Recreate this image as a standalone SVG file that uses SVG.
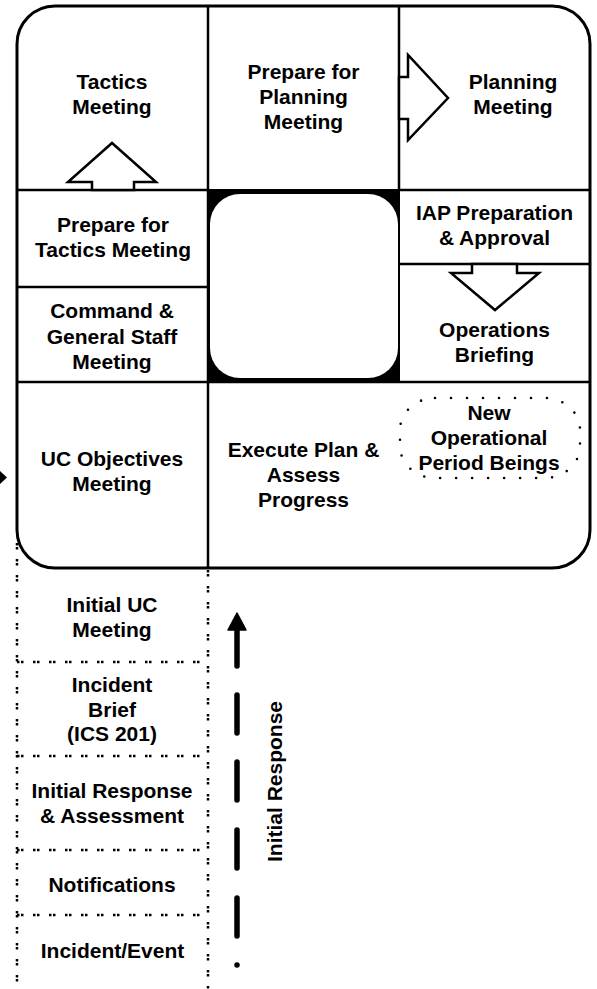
<svg xmlns="http://www.w3.org/2000/svg" width="597" height="989" viewBox="0 0 597 989">
<style>
text{font-family:"Liberation Sans",Arial,sans-serif;font-weight:bold;font-size:21px;fill:#000;text-anchor:middle}
.ln{stroke:#000;stroke-width:2.5;fill:none}
.arr{stroke:#000;stroke-width:2.5;fill:#fff;stroke-linejoin:miter}
.dot{stroke:#000;stroke-width:2.5;fill:none;stroke-dasharray:2.5 1.5 2.5 9.5}
.ell{stroke:#000;stroke-width:2.6;fill:none;stroke-dasharray:0 16;stroke-linecap:round}
</style>
<rect width="597" height="989" fill="#fff"/>
<g id="frame">
<rect x="17" y="6" width="573" height="562" rx="38" ry="38" fill="#fff" stroke="#000" stroke-width="3"/>
<rect x="207" y="189" width="193" height="193" fill="#000"/>
<rect x="210" y="194" width="188" height="184" rx="30" ry="30" fill="#fff"/>
</g>
<g id="connectors">
<line class="ln" x1="208" y1="6" x2="208" y2="568"/>
<line class="ln" x1="399" y1="6" x2="399" y2="190"/>
<line class="ln" x1="17" y1="190" x2="208" y2="190"/>
<line class="ln" x1="399" y1="190" x2="590" y2="190"/>
<line class="ln" x1="17" y1="287" x2="208" y2="287"/>
<line class="ln" x1="399" y1="264" x2="590" y2="264"/>
<line class="ln" x1="17" y1="382" x2="590" y2="382"/>
<polygon class="arr" points="92,190 92,182 68,182 112,143 156,182 134,182 134,190"/>
<polygon class="arr" points="399,77 408,77 408,55 448,98 408,140 408,119 399,119"/>
<polygon class="arr" points="472,264 472,273 451,273 495,310 539,273 517,273 517,264"/>
<polygon points="0,471 7,477.5 0,484" fill="#000"/>
<line class="dot" x1="17" y1="543" x2="17" y2="989"/>
<line class="dot" x1="208" y1="570" x2="208" y2="989"/>
<line class="dot" x1="17" y1="662" x2="208" y2="662"/>
<line class="dot" x1="17" y1="756" x2="208" y2="756"/>
<line class="dot" x1="17" y1="850" x2="208" y2="850"/>
<line class="dot" x1="17" y1="915" x2="208" y2="915"/>
<path d="M237 965 L237 965.01 M237 898 L237 936 M237 830 L237 868 M237 762 L237 800 M237 695 L237 733 M237 628 L237 666" stroke="#000" stroke-width="5.5" stroke-linecap="round" fill="none"/>
<polygon points="237,613 228,630 246,630" fill="#000" stroke="#000" stroke-width="1.5" stroke-linejoin="round"/>
</g>
<g id="tactics-meeting"><text x="112" y="89">Tactics</text><text x="112" y="114">Meeting</text></g>
<g id="prepare-planning"><text x="303.5" y="79">Prepare for</text><text x="303.5" y="104">Planning</text><text x="303.5" y="129">Meeting</text></g>
<g id="planning-meeting"><text x="513" y="89">Planning</text><text x="513" y="114">Meeting</text></g>
<g id="prepare-tactics"><text x="113" y="232">Prepare for</text><text x="113" y="257">Tactics Meeting</text></g>
<g id="cgs-meeting"><text x="112" y="318">Command &amp;</text><text x="112" y="344">General Staff</text><text x="112" y="369">Meeting</text></g>
<g id="iap"><text x="494.5" y="220">IAP Preparation</text><text x="494.5" y="245">&amp; Approval</text></g>
<g id="ops-briefing"><text x="494.5" y="337">Operations</text><text x="494.5" y="362">Briefing</text></g>
<g id="uc-objectives"><text x="112" y="466">UC Objectives</text><text x="112" y="491">Meeting</text></g>
<g id="execute"><text x="303.5" y="457">Execute Plan &amp;</text><text x="303.5" y="482">Assess</text><text x="303.5" y="507">Progress</text></g>
<g id="new-period">
<rect class="ell" x="400" y="398" width="180" height="80" rx="35" ry="32"/>
<text x="489" y="420">New</text><text x="489" y="445">Operational</text><text x="489" y="470">Period Beings</text></g>
<g id="initial-uc"><text x="112" y="612">Initial UC</text><text x="112" y="637">Meeting</text></g>
<g id="incident-brief"><text x="112" y="692">Incident</text><text x="112" y="717">Brief</text><text x="112" y="741">(ICS 201)</text></g>
<g id="initial-response-assess"><text x="112" y="798">Initial Response</text><text x="112" y="823">&amp; Assessment</text></g>
<g id="notifications"><text x="112" y="892">Notifications</text></g>
<g id="incident-event"><text x="112.5" y="958">Incident/Event</text></g>
<g id="initial-response-label"><text transform="translate(282,781.5) rotate(-90)" x="0" y="0">Initial Response</text></g>
</svg>
